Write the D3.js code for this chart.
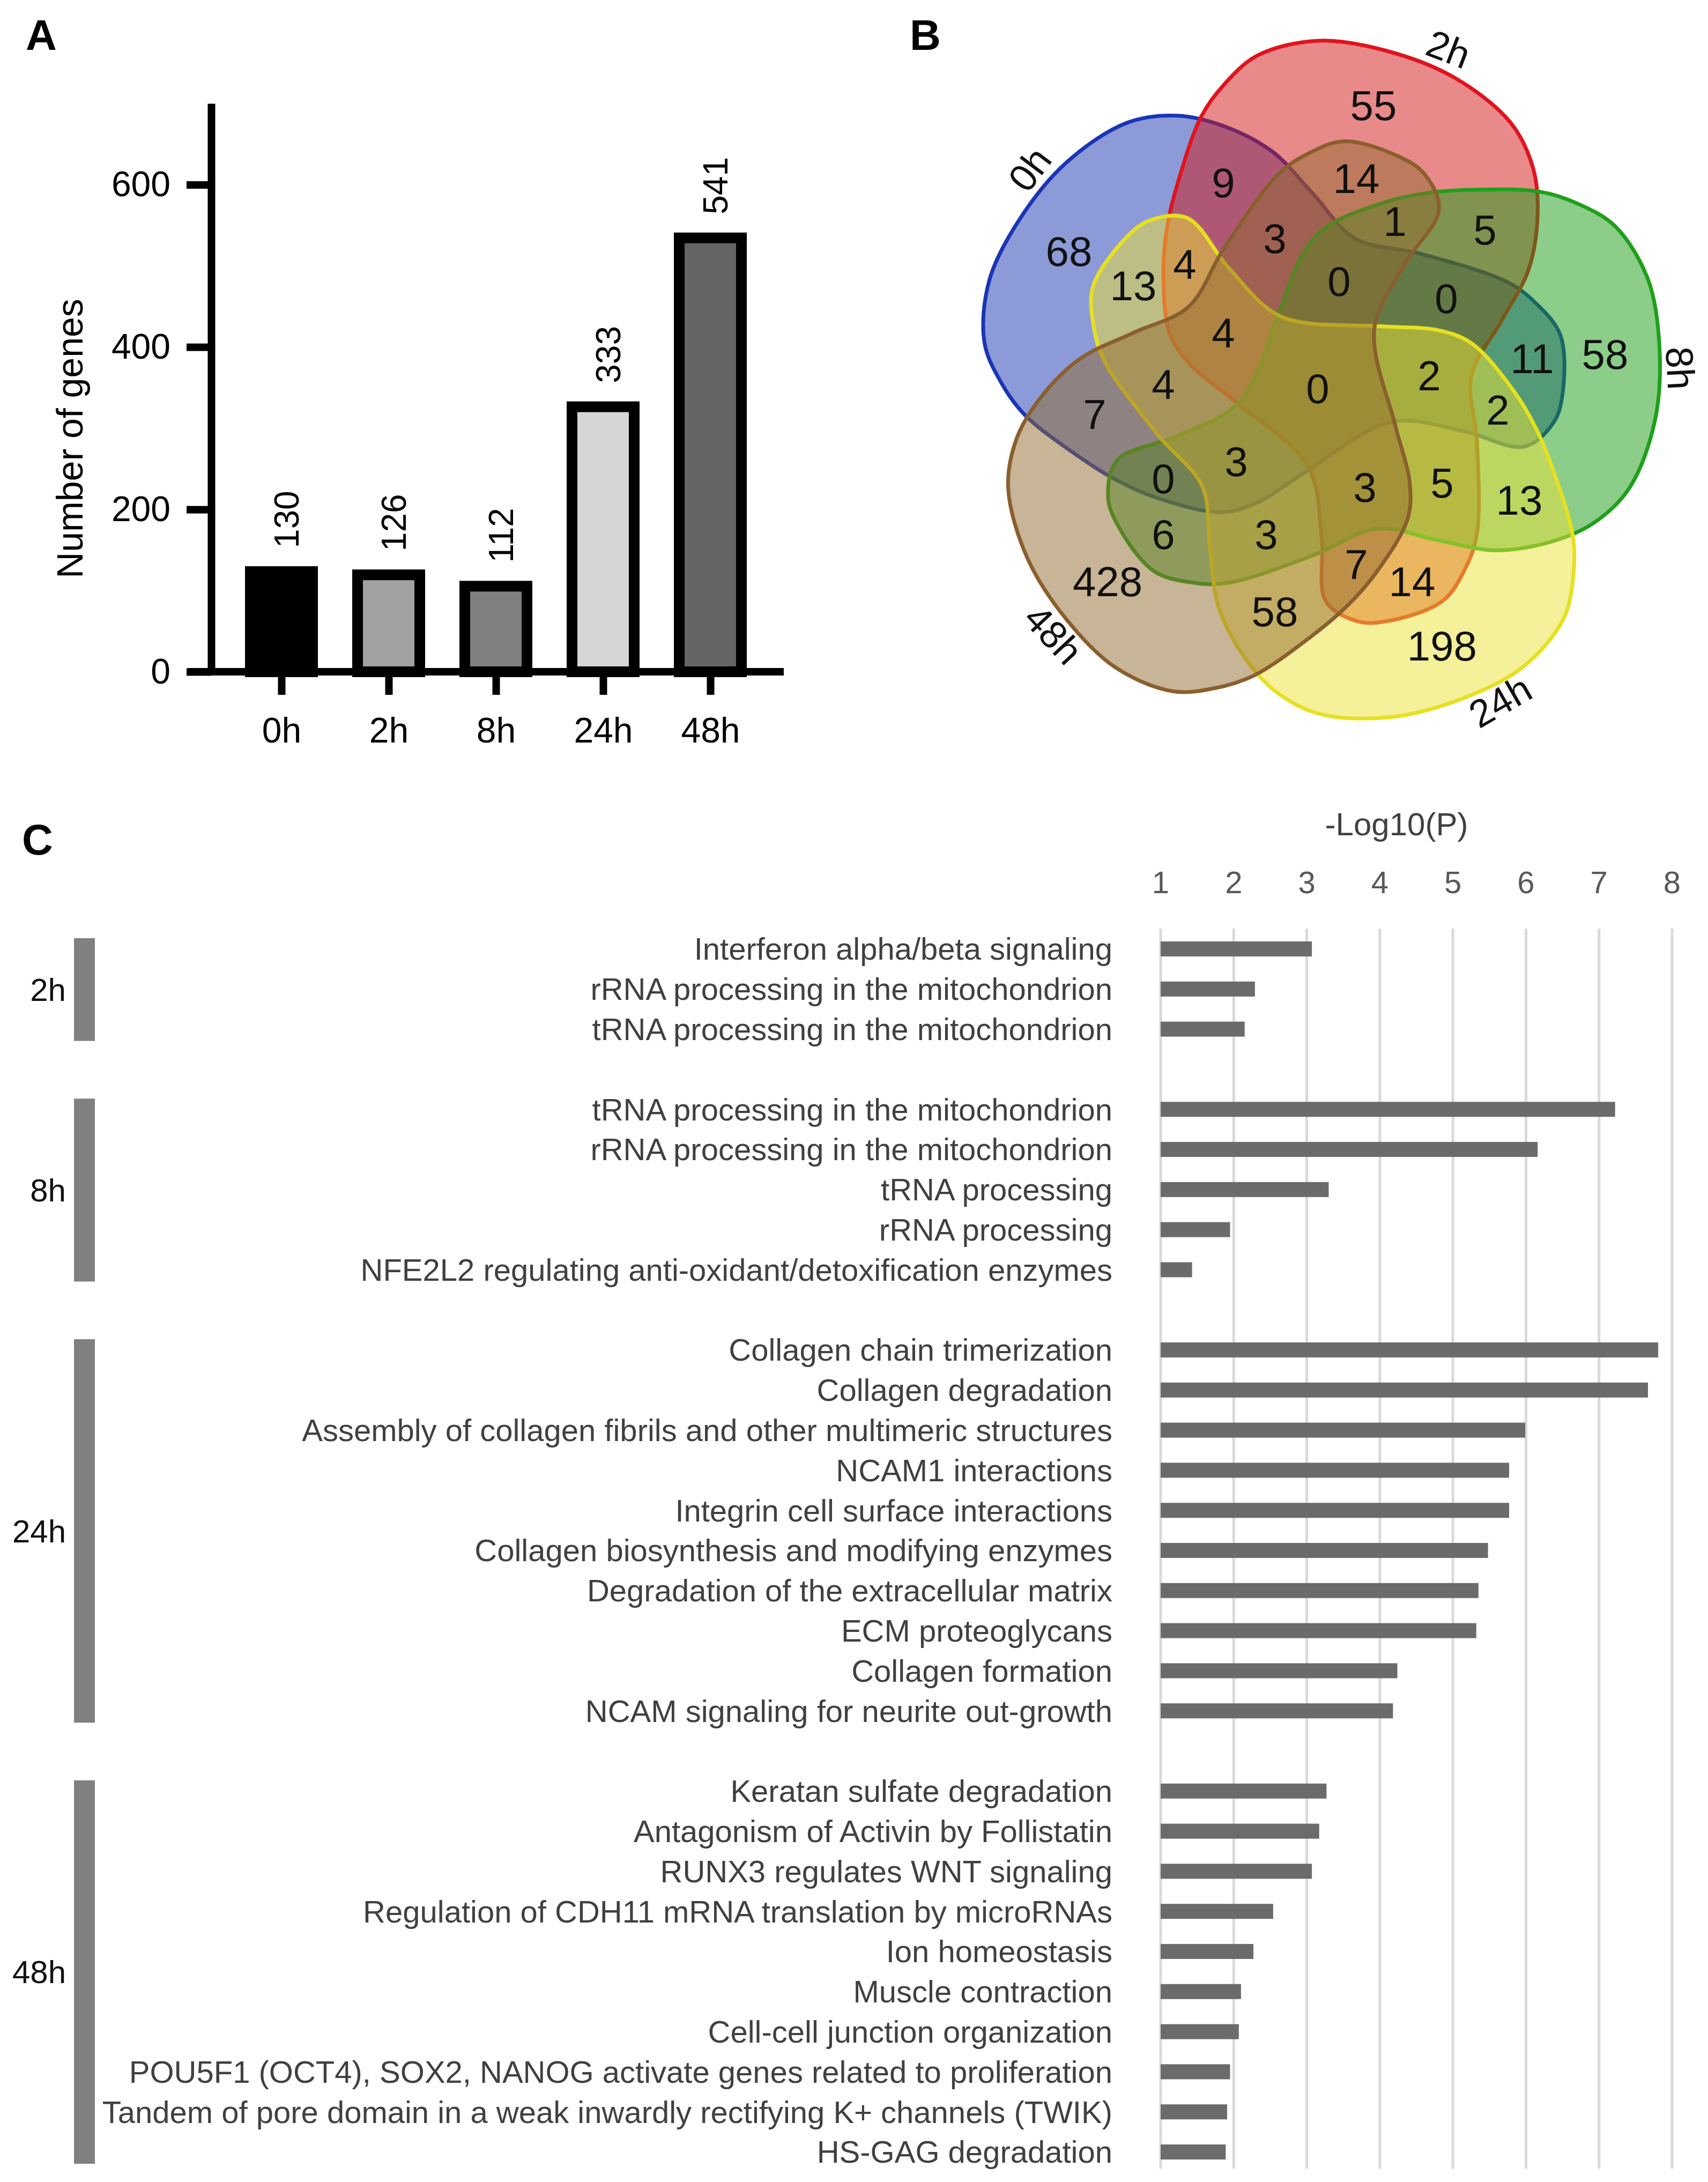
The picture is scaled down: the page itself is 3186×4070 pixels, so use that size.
<!DOCTYPE html>
<html>
<head>
<meta charset="utf-8">
<script src="https://cdn.jsdelivr.net/npm/d3@7"></script>
<style>
  body { margin: 0; background: #fff; }
  svg { display: block; font-family: "Liberation Sans", Arial, sans-serif; }
</style>
</head>
<body>
<svg id="fig" width="3186" height="4070"></svg>
<script>
// ---------- panel A data ----------
const hours = ["0h", "2h", "8h", "24h", "48h"];
const geneCounts = [130, 126, 112, 333, 541];
const barFills = ["#000000", "#a1a1a4", "#808080", "#d6d6d6", "#646464"];
const geneTicks = [0, 200, 400, 600];

// ---------- panel B data ----------
const vennSets = ["0h", "2h", "8h", "24h", "48h"];
const vennFill = ["#1937af", "#d11515", "#199b15", "#ebe135", "#91692d"];
const vennStroke = ["#1a35b5", "#e0141e", "#1fa01a", "#e6e020", "#8a5f2e"];
const vennLabelAngle = [217, 291, 357, 60, 137];
// each region = indices of the sets it belongs to
const vennRegions = [
  [0], [1], [2], [3], [4],
  [0, 1], [1, 2], [2, 3], [3, 4], [4, 0],
  [0, 3], [1, 4], [2, 0], [3, 1], [4, 2],
  [0, 1, 3], [1, 2, 4], [2, 3, 0], [3, 4, 1], [4, 0, 2],
  [4, 0, 1], [0, 1, 2], [1, 2, 3], [2, 3, 4], [3, 4, 0],
  [0, 1, 2, 4], [0, 1, 2, 3], [1, 2, 3, 4], [0, 2, 3, 4], [0, 1, 3, 4],
  [0, 1, 2, 3, 4]
];
const vennCounts = [
  68, 55, 58, 198, 428,
  9, 5, 13, 58, 7,
  13, 14, 11, 14, 6,
  4, 1, 2, 7, 0,
  3, 0, 5, 3, 4,
  0, 2, 3, 3, 4,
  0
];
// outline of one set (the 2h one) in unit radius, others are rotations of it
const vennOutline = [
  [-0.272, -0.868], [-0.175, -0.952], [0, -0.994], [0.194, -0.965], [0.389, -0.888],
  [0.551, -0.758], [0.615, -0.628], [0.628, -0.495], [0.602, -0.337], [0.523, -0.188],
  [0.438, -0.034], [0.454, 0.160], [0.454, 0.420], [0.422, 0.517], [0.355, 0.614],
  [0.194, 0.672], [0.111, 0.672], [0.020, 0.614], [0.008, 0.428], [-0.031, 0.228],
  [-0.246, 0.037], [-0.369, -0.065], [-0.428, -0.155], [-0.446, -0.337], [-0.434, -0.466],
  [-0.402, -0.595], [-0.337, -0.777]
];

// ---------- panel C data ----------
const termGroups = ["2h", "8h", "24h", "48h"];
const termNames = [
  ["Interferon alpha/beta signaling", "rRNA processing in the mitochondrion", "tRNA processing in the mitochondrion"],
  ["tRNA processing in the mitochondrion", "rRNA processing in the mitochondrion", "tRNA processing", "rRNA processing",
   "NFE2L2 regulating anti-oxidant/detoxification enzymes"],
  ["Collagen chain trimerization", "Collagen degradation", "Assembly of collagen fibrils and other multimeric structures",
   "NCAM1 interactions", "Integrin cell surface interactions", "Collagen biosynthesis and modifying enzymes",
   "Degradation of the extracellular matrix", "ECM proteoglycans", "Collagen formation", "NCAM signaling for neurite out-growth"],
  ["Keratan sulfate degradation", "Antagonism of Activin by Follistatin", "RUNX3 regulates WNT signaling",
   "Regulation of CDH11 mRNA translation by microRNAs", "Ion homeostasis", "Muscle contraction",
   "Cell-cell junction organization", "POU5F1 (OCT4), SOX2, NANOG activate genes related to proliferation",
   "Tandem of pore domain in a weak inwardly rectifying K+ channels (TWIK)", "HS-GAG degradation"]
];
const termLogP = [
  [3.07, 2.29, 2.15],
  [7.22, 6.16, 3.30, 1.95, 1.43],
  [7.81, 7.67, 5.99, 5.77, 5.77, 5.48, 5.35, 5.32, 4.24, 4.18],
  [3.27, 3.17, 3.07, 2.54, 2.27, 2.10, 2.07, 1.95, 1.91, 1.89]
];
const logTicks = [1, 2, 3, 4, 5, 6, 7, 8];

const svg = d3.select("#fig");
svg.append("rect").attr("width", 3186).attr("height", 4070).attr("fill", "#fff");

// panel letters
[["A", 48, 93], ["B", 1697, 93], ["C", 41, 1594]].forEach(d => {
  svg.append("text").text(d[0]).attr("x", d[1]).attr("y", d[2])
    .attr("font-size", 80).attr("font-weight", "bold").attr("fill", "#000");
});

// ================= A: bar chart =================
let yA = d3.scaleLinear().domain([0, 700]).range([1253, 193]);
let xA = d3.scalePoint().domain(hours).range([425, 1425]).padding(0.5);
let gA = svg.append("g");
let barW = 116, barStroke = 20;

gA.selectAll("rect.bar")
  .data(hours)
  .enter()
  .append("rect")
  .attr("class", "bar")
  .attr("x", d => xA(d) - barW / 2)
  .attr("width", barW)
  .attr("y", (d, i) => yA(geneCounts[i]) + barStroke / 2)
  .attr("height", (d, i) => yA(0) - yA(geneCounts[i]) - barStroke / 2)
  .attr("fill", (d, i) => barFills[i])
  .attr("stroke", "#000")
  .attr("stroke-width", barStroke);

gA.selectAll("text.val")
  .data(hours)
  .enter()
  .append("text")
  .attr("class", "val")
  .attr("transform", (d, i) => `translate(${xA(d) + 9},${yA(geneCounts[i]) - 34}) rotate(-90)`)
  .attr("dy", "0.36em")
  .attr("font-size", 64)
  .text((d, i) => geneCounts[i]);

let yAxis = gA.append("g").attr("transform", "translate(394,0)")
  .call(d3.axisLeft(yA).tickValues(geneTicks).tickSize(46).tickSizeOuter(0).tickPadding(30));
yAxis.select(".domain").attr("stroke", "#000").attr("stroke-width", 14);
yAxis.selectAll(".tick line").attr("stroke", "#000").attr("stroke-width", 14);
yAxis.selectAll(".tick text").attr("font-size", 66).attr("fill", "#000").attr("font-family", "Liberation Sans, Arial, sans-serif");

let xAxis = gA.append("g").attr("transform", `translate(0,${yA(0)})`)
  .call(d3.axisBottom(xA).tickSize(43).tickPadding(42));
xAxis.select(".domain").remove();
xAxis.selectAll(".tick line").attr("stroke", "#000").attr("stroke-width", 14);
xAxis.selectAll(".tick text").attr("font-size", 66).attr("fill", "#000").attr("font-family", "Liberation Sans, Arial, sans-serif");
gA.append("line").attr("x1", 351).attr("x2", 1462).attr("y1", yA(0)).attr("y2", yA(0))
  .attr("stroke", "#000").attr("stroke-width", 14);

gA.append("text").text("Number of genes")
  .attr("transform", `translate(130,${(yA(0) + yA(700)) / 2 + 95}) rotate(-90)`)
  .attr("text-anchor", "middle").attr("dy", "0.35em").attr("font-size", 68);

// ================= B: five-set Venn =================
const vennCenter = [2460, 722];
const vennR = d3.scaleLinear().domain([0, 1]).range([0, 650]);
function rotate(p, deg) {
  const a = deg * Math.PI / 180;
  return [p[0] * Math.cos(a) - p[1] * Math.sin(a), p[0] * Math.sin(a) + p[1] * Math.cos(a)];
}
let outline = d3.line().curve(d3.curveCatmullRomClosed.alpha(0.5));
let gB = svg.append("g").attr("transform", `translate(${vennCenter[0]},${vennCenter[1]})`);

let shapes = vennSets.map((s, k) => {
  let pts = vennOutline.map(p => rotate([vennR(p[0]), vennR(p[1])], (k - 1) * 72));
  return gB.append("path")
    .attr("d", outline(pts))
    .attr("fill", vennFill[k])
    .attr("fill-opacity", 0.5)
    .attr("stroke", vennStroke[k])
    .attr("stroke-width", 7);
});

// sample each outline into a polygon, then find a roomy spot in every region
let polys = shapes.map(p => {
  let n = p.node(), L = n.getTotalLength();
  return d3.range(300).map(i => { let q = n.getPointAtLength(i * L / 300); return [q.x, q.y]; });
});
let allPts = polys.flat();
let [bx0, bx1] = d3.extent(allPts, d => d[0]);
let [by0, by1] = d3.extent(allPts, d => d[1]);
let cells = new Map();
for (let x = bx0; x <= bx1; x += 8) {
  for (let y = by0; y <= by1; y += 8) {
    let mask = 0;
    polys.forEach((pl, k) => { if (d3.polygonContains(pl, [x, y])) mask |= 1 << k; });
    if (!mask) continue;
    let dmin = Infinity;
    for (const q of allPts) {
      let dx = q[0] - x, dy = q[1] - y, d = dx * dx + dy * dy;
      if (d < dmin) dmin = d;
    }
    if (!cells.has(mask)) cells.set(mask, []);
    cells.get(mask).push({ x: x, y: y, d: Math.sqrt(dmin) });
  }
}
function labelSpot(mask) {
  let c = cells.get(mask);
  if (!c) return null;
  let maxD = d3.max(c, p => p.d);
  let cx = d3.mean(c, p => p.x), cy = d3.mean(c, p => p.y);
  let cand = c.filter(p => p.d >= 0.7 * maxD);
  return d3.least(cand, p => (p.x - cx) ** 2 + (p.y - cy) ** 2);
}

vennRegions.forEach((r, i) => {
  let mask = r.reduce((m, k) => m | (1 << k), 0);
  let b = labelSpot(mask);
  if (!b) return;
  gB.append("text").text(vennCounts[i])
    .attr("x", b.x).attr("y", b.y).attr("dy", "0.36em")
    .attr("text-anchor", "middle").attr("font-size", 78).attr("fill", "#111");
});

vennSets.forEach((s, k) => {
  let phi = vennLabelAngle[k];
  let p = rotate([676, 0], phi);
  let rot = ((phi + 90) % 360 + 360) % 360;
  if (rot > 90 && rot < 270) rot -= 180;
  gB.append("text").text(s)
    .attr("transform", `translate(${p[0]},${p[1]}) rotate(${rot})`)
    .attr("text-anchor", "middle").attr("dy", "0.36em")
    .attr("font-size", 72).attr("fill", "#111");
});

// ================= C: enrichment bars =================
let rows = [];
termGroups.forEach((g, gi) => {
  if (gi > 0) rows.push({ key: "gap" + gi });
  termNames[gi].forEach((n, j) => rows.push({ key: g + "|" + j, group: g, name: n, v: termLogP[gi][j] }));
});
let yC = d3.scalePoint().domain(rows.map(r => r.key)).range([1770, 4014]);
let xC = d3.scaleLinear().domain([1, 8]).range([2165, 3119]);
let gC = svg.append("g");

gC.selectAll("line.grid")
  .data(logTicks)
  .enter()
  .append("line")
  .attr("x1", d => xC(d)).attr("x2", d => xC(d))
  .attr("y1", 1732).attr("y2", 4045)
  .attr("stroke", "#d9d9d9").attr("stroke-width", 5);

gC.selectAll("text.tick")
  .data(logTicks)
  .enter()
  .append("text")
  .attr("x", d => xC(d)).attr("y", 1666)
  .attr("text-anchor", "middle").attr("font-size", 58).attr("fill", "#595959")
  .text(d => d);

gC.append("text").text("-Log10(P)").attr("x", 2605).attr("y", 1558)
  .attr("text-anchor", "middle").attr("font-size", 60).attr("fill", "#404040");

let terms = rows.filter(r => r.name);
gC.selectAll("rect.term")
  .data(terms)
  .enter()
  .append("rect")
  .attr("x", xC(1))
  .attr("y", d => yC(d.key) - 14)
  .attr("width", d => xC(d.v) - xC(1))
  .attr("height", 28)
  .attr("fill", "#6b6b6b");

gC.selectAll("text.term")
  .data(terms)
  .enter()
  .append("text")
  .attr("x", 2075)
  .attr("y", d => yC(d.key))
  .attr("dy", "0.35em")
  .attr("text-anchor", "end")
  .attr("font-size", 58)
  .attr("fill", "#404040")
  .text(d => d.name);

termGroups.forEach((g, gi) => {
  let first = yC(g + "|0"), last = yC(g + "|" + (termNames[gi].length - 1));
  gC.append("rect").attr("x", 138).attr("width", 39)
    .attr("y", first - 20).attr("height", last - first + 42)
    .attr("fill", "#808080");
  gC.append("text").text(g).attr("x", 123).attr("y", (first + last) / 2 + 1)
    .attr("dy", "0.35em").attr("text-anchor", "end")
    .attr("font-size", 60).attr("fill", "#111");
});
</script>
</body>
</html>
